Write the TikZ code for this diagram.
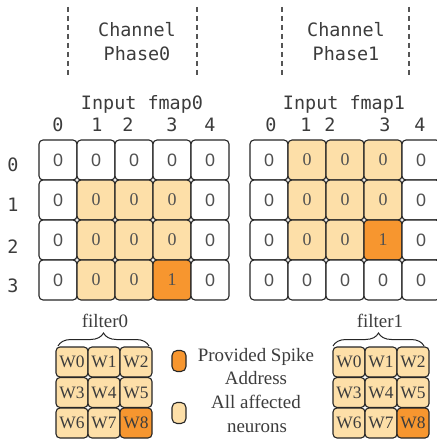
\documentclass[tikz,border=0pt]{standalone}
\usepackage{fontspec}
\setmainfont{Liberation Serif}
\newfontfamily\monof{DejaVu Sans Mono}
\newfontfamily\sansf{Liberation Sans}
\usetikzlibrary{decorations.pathreplacing}
\definecolor{lightor}{HTML}{FDDFA8}
\definecolor{darkor}{HTML}{F7962F}
\definecolor{txt}{HTML}{3C3C3C}
\definecolor{edge}{HTML}{262626}
\definecolor{dashgray}{HTML}{555555}
\begin{document}
\begin{tikzpicture}[x=1bp,y=-1bp,
 cell/.style={draw=edge, line width=1.1bp, rounded corners=4bp, minimum width=38bp, minimum height=40bp, inner sep=0pt, font=\sansf\fontsize{18}{18}\selectfont, text=txt!90},
 wcell/.style={draw=edge, line width=1.1bp, rounded corners=4bp, minimum width=32bp, minimum height=30bp, inner sep=0pt, font=\fontsize{17.5}{18}\selectfont, text=txt},
 mono/.style={font=\monof\fontsize{18.5}{22}\selectfont, text=txt, inner sep=0pt, anchor=base},
 serift/.style={font=\fontsize{19}{22}\selectfont, text=txt, inner sep=0pt, anchor=base},
 sep/.style={draw=dashgray, line width=1.2bp, dash pattern=on 5bp off 4bp},
 pill/.style={draw=edge, line width=1.1bp, rounded corners=5bp, minimum width=14bp, minimum height=21bp, inner sep=0pt},
 brc/.style={draw=edge, line width=1bp, decorate, decoration={brace, amplitude=13bp}}
]
\useasboundingbox (0,0) rectangle (437,441);
\fill[white] (0,0) rectangle (437,441);

% channel headers
\coordinate (s0t) at (68,7); \coordinate (s0b) at (68,78);
\coordinate (s1t) at (197,7); \coordinate (s1b) at (197,78);
\coordinate (s2t) at (282,7); \coordinate (s2b) at (282,78);
\coordinate (s3t) at (409,7); \coordinate (s3b) at (409,78);
\draw[sep] (s0t) -- (s0b);
\draw[sep] (s1t) -- (s1b);
\draw[sep] (s2t) -- (s2b);
\draw[sep] (s3t) -- (s3b);
\node[mono] (ch0a) at (137,37) {Channel};
\node[mono] (ch0b) at (137,61) {Phase0};
\node[mono] (ch1a) at (346,37) {Channel};
\node[mono] (ch1b) at (346,61) {Phase1};
\node[mono] (in0) at (142,110) {Input fmap0};
\node[mono] (in1) at (344,110) {Input fmap1};

% column labels
\node[mono] (c00) at (58,132) {0};
\node[mono] (c01) at (97,132) {1};
\node[mono] (c02) at (128,132) {2};
\node[mono] (c03) at (172,132) {3};
\node[mono] (c04) at (210,132) {4};
\node[mono] (c10) at (271,132) {0};
\node[mono] (c11) at (306,132) {1};
\node[mono] (c12) at (330,132) {2};
\node[mono] (c13) at (385,132) {3};
\node[mono] (c14) at (420,132) {4};

% row labels
\node[mono] (r0) at (13,172) {0};
\node[mono] (r1) at (13,212) {1};
\node[mono] (r2) at (13,253) {2};
\node[mono] (r3) at (13,292) {3};

% fmap0 grid
\foreach \r in {0,...,3}{
  \foreach \c in {0,...,4}{
    \pgfmathtruncatemacro{\hl}{and(\r>0,and(\c>0,\c<4)) ? (and(\r==3,\c==3) ? 2 : 1) : 0}
    \ifcase\hl
      \node[cell, fill=white] (a-\r-\c) at ({58+38*\c},{160+40*\r}) {0};
    \or
      \node[cell, fill=lightor] (a-\r-\c) at ({58+38*\c},{160+40*\r}) {\rmfamily 0};
    \or
      \node[cell, fill=darkor] (a-\r-\c) at ({58+38*\c},{160+40*\r}) {\rmfamily 1};
    \fi
  }
}

% fmap1 grid
\foreach \r in {0,...,3}{
  \foreach \c in {0,...,4}{
    \pgfmathtruncatemacro{\hl}{and(\r<3,and(\c>0,\c<4)) ? (and(\r==2,\c==3) ? 2 : 1) : 0}
    \ifcase\hl
      \node[cell, fill=white] (b-\r-\c) at ({269+38*\c},{160+40*\r}) {0};
    \or
      \node[cell, fill=lightor] (b-\r-\c) at ({269+38*\c},{160+40*\r}) {\rmfamily 0};
    \or
      \node[cell, fill=darkor] (b-\r-\c) at ({269+38*\c},{160+40*\r}) {\rmfamily 1};
    \fi
  }
}

% filters
\node[serift] (f0) at (105,327) {filter0};
\node[serift] (f1) at (380,327) {filter1};
\coordinate (br0l) at (58,346); \coordinate (br0r) at (149,346);
\coordinate (br1l) at (333,346); \coordinate (br1r) at (424,346);
\draw[brc] (br0l) -- (br0r);
\draw[brc] (br1l) -- (br1r);

\foreach \k/\xo in {0/72,1/349}{
  \foreach \r in {0,1,2}{\foreach \c in {0,1,2}{
    \pgfmathtruncatemacro{\idx}{3*\r+\c}
    \ifnum\idx=8
      \node[wcell, fill=darkor] (w\k-\r-\c) at ({\xo+32*\c},{362+30.5*\r}) {W\idx};
    \else
      \node[wcell, fill=lightor] (w\k-\r-\c) at ({\xo+32*\c},{362+30.5*\r}) {W\idx};
    \fi
  }}
}

% legend
\node[pill, fill=darkor] (lg1) at (179,361) {};
\node[pill, fill=lightor] (lg2) at (179,413) {};
\node[serift] (t1) at (256,361) {Provided Spike};
\node[serift] (t2) at (256,384) {Address};
\node[serift] (t3) at (256,408) {All affected};
\node[serift] (t4) at (257,432) {neurons};
\end{tikzpicture}
\end{document}
